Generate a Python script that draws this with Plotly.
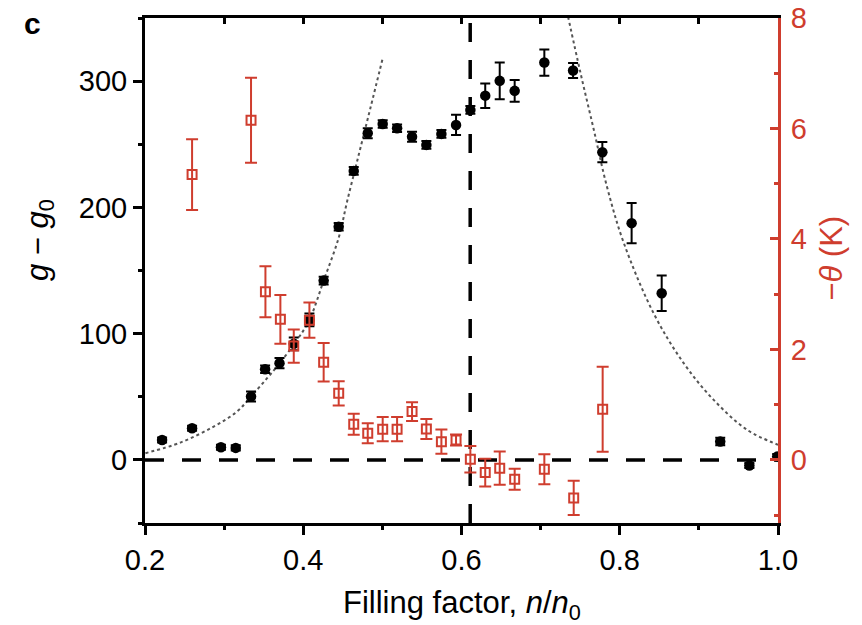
import plotly.graph_objects as go

# ---- data ----
g_x = [0.2216, 0.2595, 0.296, 0.3147, 0.334, 0.3518, 0.370, 0.388, 0.4078, 0.4258,
       0.4448, 0.4638, 0.4815, 0.5004, 0.5186, 0.5375, 0.5556, 0.5746, 0.5931, 0.6112,
       0.630, 0.6483, 0.6672, 0.7047, 0.741, 0.778, 0.815, 0.853, 0.927, 0.9638, 0.999]
g_y = [15.8, 25.1, 10, 9.5, 50.2, 71.8, 76.6, 91.9, 110.9, 142,
       184.6, 228.9, 258.7, 266.1, 262.7, 256, 249.5, 258.2, 265.3, 277.2,
       288.5, 300.2, 292.3, 314.7, 308.4, 243.7, 187.5, 132, 14.5, -4.5, 2.6]
g_err = [2, 2, 2, 2, 4, 3, 4, 5, 5, 3,
         3, 3, 4, 3, 3, 4, 3, 3, 8, 3,
         9.7, 14.5, 8.6, 10.4, 6, 8, 16, 14, 3, 2, 2]

theta_x = [0.2595, 0.334, 0.3522, 0.3711, 0.388, 0.4078, 0.4258, 0.4448, 0.4638, 0.4815,
           0.5004, 0.5186, 0.5375, 0.5556, 0.5746, 0.5931, 0.6112, 0.630, 0.6483, 0.6672,
           0.7047, 0.7418, 0.7784]
theta_y = [5.166, 6.148, 3.044, 2.544, 2.06, 2.53, 1.767, 1.205, 0.645, 0.482,
           0.555, 0.555, 0.874, 0.56, 0.33, 0.36, 0.01, -0.23, -0.15, -0.35,
           -0.17, -0.69, 0.917]
theta_err = [0.64, 0.77, 0.46, 0.44, 0.3, 0.32, 0.35, 0.22, 0.19, 0.18,
             0.22, 0.22, 0.17, 0.18, 0.22, 0.1, 0.24, 0.25, 0.3, 0.19,
             0.27, 0.31, 0.77]

fit_left_x = [0.2005, 0.2447, 0.2868, 0.3164, 0.334, 0.3543, 0.3702, 0.3922, 0.4078,
              0.4258, 0.4448, 0.4554, 0.4701, 0.4848, 0.5004]
fit_left_y = [5.3, 13.7, 26.4, 38.3, 50.2, 64.7, 76.6, 95, 110.9,
              142, 176, 204.6, 241.6, 278.5, 318]
fit_right_x = [0.7347, 0.7502, 0.767, 0.784, 0.805, 0.8429, 0.8808, 0.9187, 0.961, 1.0]
fit_right_y = [351, 307, 262, 216, 172, 116, 76.6, 47.5, 23.8, 12]

critical_filling = 0.611

x_ticks = [0.2, 0.4, 0.6, 0.8, 1.0]
x_tick_text = ["0.2", "0.4", "0.6", "0.8", "1.0"]
left_ticks = [0, 100, 200, 300]
right_ticks = [0, 2, 4, 6, 8]

RED = "#cf3d2e"
FONT = "Liberation Sans, Arial, Helvetica, sans-serif"

fig = go.Figure()

fig.add_trace(go.Scatter(x=fit_left_x, y=fit_left_y, mode="lines",
                         line=dict(color="#555555", width=2, dash="dot", shape="spline"),
                         hoverinfo="skip", showlegend=False))
fig.add_trace(go.Scatter(x=fit_right_x, y=fit_right_y, mode="lines",
                         line=dict(color="#555555", width=2, dash="dot", shape="spline"),
                         hoverinfo="skip", showlegend=False))
fig.add_trace(go.Scatter(x=g_x, y=g_y, mode="markers",
                         marker=dict(color="black", size=10.5, symbol="circle"),
                         error_y=dict(type="data", array=g_err, color="black", thickness=2, width=5),
                         showlegend=False))
fig.add_trace(go.Scatter(x=theta_x, y=theta_y, mode="markers", yaxis="y2",
                         marker=dict(color=RED, size=9, symbol="square-open", line=dict(width=2, color=RED)),
                         error_y=dict(type="data", array=theta_err, color=RED, thickness=2, width=6),
                         showlegend=False))
# dummy trace so that the top axis is drawn
fig.add_trace(go.Scatter(x=[0.2], y=[None], xaxis="x2", yaxis="y", mode="markers",
                         showlegend=False, hoverinfo="skip"))

fig.update_layout(
    width=854, height=617,
    margin=dict(l=137, r=84, t=10, b=102),
    plot_bgcolor="white", paper_bgcolor="white",
    font=dict(family=FONT, size=29, color="black"),
    showlegend=False,
    xaxis=dict(range=[0.2, 1.0], tickvals=x_ticks, ticktext=x_tick_text,
               ticks="outside", ticklen=9, tickwidth=3, tickcolor="black",
               showline=True, linewidth=3, linecolor="black",
               showgrid=False, zeroline=False, automargin=False, ticklabeloverflow="allow",
               minor=dict(dtick=0.1, tick0=0.2, ticks="outside", ticklen=4, tickwidth=3, tickcolor="black")),
    xaxis2=dict(range=[0.2, 1.0], overlaying="x", side="top", anchor="y",
                ticks="inside", dtick=0.1, tick0=0.2, ticklen=6, tickwidth=3, tickcolor="black",
                showline=True, linewidth=3, linecolor="black", automargin=False,
                showticklabels=False, showgrid=False, zeroline=False),
    yaxis=dict(range=[-50, 350], tickvals=left_ticks,
               ticks="outside", ticklen=9, tickwidth=3, tickcolor="black",
               showline=True, linewidth=3, linecolor="black",
               showgrid=False, zeroline=False, automargin=False, ticklabeloverflow="allow",
               minor=dict(dtick=50, tick0=0, ticks="outside", ticklen=4, tickwidth=3, tickcolor="black")),
    yaxis2=dict(range=[-1.143, 8], tickvals=right_ticks, overlaying="y", side="right",
                ticks="inside", ticklen=8, tickwidth=2.5, tickcolor=RED,
                showline=True, linewidth=3, linecolor=RED,
                tickfont=dict(color=RED), automargin=False, ticklabelstandoff=4,
                ticklabeloverflow="allow",
                showgrid=False, zeroline=False,
                minor=dict(dtick=1, tick0=0, ticks="inside", ticklen=4, tickwidth=2.5, tickcolor=RED)),
    shapes=[
        dict(type="line", xref="paper", x0=0, x1=1, yref="y", y0=0, y1=0,
             line=dict(color="black", width=3.5, dash="19px,18px"), layer="below"),
        dict(type="line", xref="x", x0=critical_filling, x1=critical_filling, yref="paper", y0=0, y1=1,
             line=dict(color="black", width=3.5, dash="19px,18px"), layer="below"),
    ],
    annotations=[
        dict(text="<b>c</b>", xref="paper", yref="paper", x=-0.177, y=0.99,
             showarrow=False, xanchor="center", yanchor="middle", font=dict(size=30, family=FONT)),
        dict(text="<i>g</i> − <i>g</i><sub>0</sub>", xref="paper", yref="paper", x=-0.166, y=0.56,
             textangle=-90, showarrow=False, xanchor="center", yanchor="middle", font=dict(size=31)),
        dict(text="−<i>θ</i> (K)", xref="paper", yref="paper", x=1.085, y=0.525,
             textangle=-90, showarrow=False, xanchor="center", yanchor="middle",
             font=dict(size=31, color=RED)),
        dict(text="Filling factor, <i>n</i>/<i>n</i><sub>0</sub>", xref="paper", yref="paper",
             x=0.5, y=-0.163, showarrow=False, xanchor="center", yanchor="middle",
             font=dict(size=31)),
    ],
)

fig.write_html("out.html")
